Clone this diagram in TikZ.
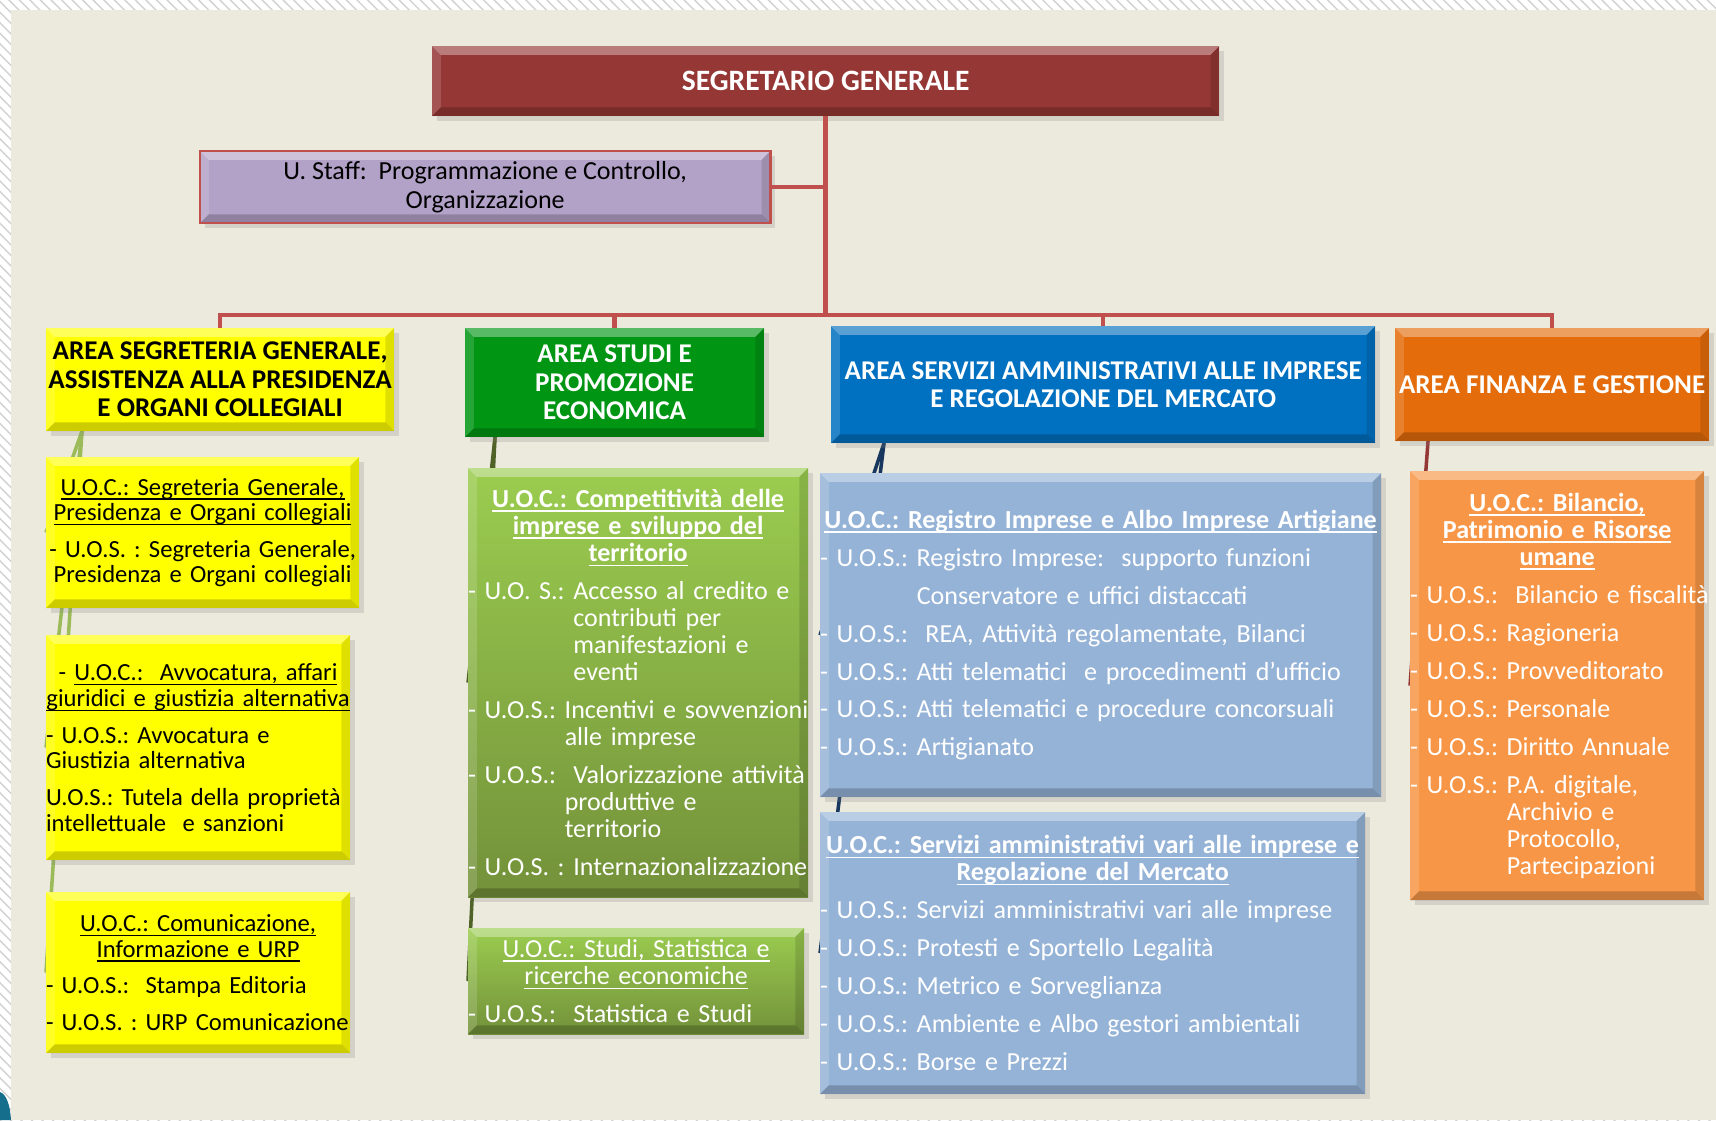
\documentclass[tikz,border=0pt]{standalone}
\usepackage{fontspec}
\setmainfont{Carlito}
\usetikzlibrary{positioning,shadows,backgrounds,patterns}

\definecolor{bgbeige}{RGB}{236,233,221}
\definecolor{sgred}{RGB}{149,55,53}
\definecolor{linkred}{RGB}{192,80,77}
\definecolor{staffviolet}{RGB}{179,162,199}
\definecolor{areayellow}{RGB}{255,255,0}
\definecolor{areagreen}{RGB}{0,150,20}
\definecolor{areablue}{RGB}{0,112,192}
\definecolor{areaorange}{RGB}{228,108,10}
\definecolor{greentop}{RGB}{155,205,80}
\definecolor{greenbot}{RGB}{115,145,58}
\definecolor{unitblue}{RGB}{149,179,215}
\definecolor{unitorange}{RGB}{247,150,70}
\definecolor{linkolive}{RGB}{155,187,89}
\definecolor{linkgreen}{RGB}{79,98,40}
\definecolor{linknavy}{RGB}{23,55,94}
\definecolor{linkbrown}{RGB}{149,55,53}
\definecolor{cornerteal}{RGB}{20,110,140}

% underline that sits just under the baseline
\newcommand{\undertext}[1]{{\setbox0=\hbox{#1}\rlap{\rule[-1.3pt]{\wd0}{0.45pt}}\box0}}
% one line of a unit box: centred, underlined heading, plain, hanging
\newcommand{\uocline}[1]{\makebox[\linewidth]{\undertext{#1}}\par}
\newcommand{\cenline}[1]{\makebox[\linewidth]{#1}\par}
\newcommand{\uosline}[1]{\makebox[\linewidth][l]{#1}\par}
\newcommand{\contline}[2]{\makebox[\linewidth][l]{\hphantom{#1}#2}\par}
\newcommand{\uosgap}{\vspace{3.1pt}}

\tikzset{
  bevel/.style={path picture={
    \fill[white, opacity=0.35] (path picture bounding box.north west) -- (path picture bounding box.north east)
      -- ([xshift=-2.5pt,yshift=-2.5pt]path picture bounding box.north east)
      -- ([xshift=2.5pt,yshift=-2.5pt]path picture bounding box.north west) -- cycle;
    \fill[white, opacity=0.15] (path picture bounding box.north west) -- (path picture bounding box.south west)
      -- ([xshift=2.5pt,yshift=2.5pt]path picture bounding box.south west)
      -- ([xshift=2.5pt,yshift=-2.5pt]path picture bounding box.north west) -- cycle;
    \fill[black, opacity=0.12] (path picture bounding box.north east) -- (path picture bounding box.south east)
      -- ([xshift=-2.5pt,yshift=2.5pt]path picture bounding box.south east)
      -- ([xshift=-2.5pt,yshift=-2.5pt]path picture bounding box.north east) -- cycle;
    \fill[black, opacity=0.2] (path picture bounding box.south west) -- (path picture bounding box.south east)
      -- ([xshift=-2.5pt,yshift=2.5pt]path picture bounding box.south east)
      -- ([xshift=2.5pt,yshift=2.5pt]path picture bounding box.south west) -- cycle;
  }}
}

\begin{document}
\frenchspacing
\begin{tikzpicture}[x=0.01cm, y=-0.01cm,
    box/.style={anchor=north west, inner xsep=0pt, inner ysep=1pt, outer sep=0pt,
      drop shadow={opacity=0.22, shadow xshift=1.4pt, shadow yshift=-1.4pt}, bevel},
    boxdim/.style 2 args={minimum width=#1cm, text width=#1cm, minimum height=#2cm},
    areadim/.style 2 args={minimum width=#1cm, minimum height=#2cm},
    area/.style={box, align=center, font=\fontsize{7.7}{8.1}\selectfont\bfseries},
    unit/.style={box, font=\fontsize{7.4}{7.7}\selectfont},
    yellowunit/.style={unit, fill=areayellow, font=\fontsize{7.0}{7.3}\selectfont},
    link/.style={draw=linkred, line width=1.3pt},
    sublink/.style={line width=1pt}]
  \useasboundingbox (0,0) rectangle (1716,1120);

  % 1. Segretario and staff unit
  \node[area, areadim={7.87}{0.70}, fill=sgred, text=white,
    font=\fontsize{8.4}{9}\selectfont\bfseries] (sg) at (432,46) {SEGRETARIO GENERALE};
  \node[box, areadim={5.70}{0.72}, fill=staffviolet, draw=linkred, line width=0.7pt,
    align=center, font=\fontsize{7.4}{8.1}\selectfont] (staff) at (200,151)
    {U. Staff:\ \ Programmazione e Controllo,\\ Organizzazione};

  % 2. The four areas
  \node[area, areadim={3.48}{1.03}, fill=areayellow] (segr) at (46,328)
    {AREA SEGRETERIA GENERALE,\\ ASSISTENZA ALLA PRESIDENZA\\ E ORGANI COLLEGIALI};
  \node[area, areadim={2.99}{1.09}, fill=areagreen, text=white] (studi) at (465,328)
    {AREA STUDI E\\ PROMOZIONE\\ ECONOMICA};
  \node[area, areadim={5.44}{1.17}, fill=areablue, text=white] (serv) at (831,326)
    {AREA SERVIZI AMMINISTRATIVI ALLE IMPRESE\\ E REGOLAZIONE DEL MERCATO};
  \node[area, areadim={3.14}{1.13}, fill=areaorange, text=white] (fin) at (1395,328)
    {AREA FINANZA E GESTIONE};

  % 3. Units of the first area
  \node[yellowunit, boxdim={3.13}{1.51}] (segr1) at (46,457) {%
    \uocline{U.O.C.: Segreteria Generale,}
    \uocline{Presidenza e Organi collegiali}\uosgap
    \cenline{- U.O.S. : Segreteria Generale,}
    \cenline{Presidenza e Organi collegiali}};
  \node[yellowunit, boxdim={3.04}{2.25}] (segr2) at (46,635) {%
    \cenline{- \undertext{U.O.C.:\ \ Avvocatura, affari}}
    \uocline{giuridici e giustizia alternativa}\uosgap
    \uosline{- U.O.S.: Avvocatura e}
    \uosline{Giustizia alternativa}\uosgap
    \makebox[\linewidth][s]{U.O.S.: Tutela della proprietà}\par
    \uosline{intellettuale\ \ e sanzioni}\vspace{7pt}};
  \node[yellowunit, boxdim={3.04}{1.61}] (segr3) at (46,892) {%
    \uocline{U.O.C.: Comunicazione,}
    \uocline{Informazione e URP}\uosgap
    \uosline{- U.O.S.:\ \ Stampa Editoria}\uosgap
    \uosline{- U.O.S. : URP Comunicazione}};

  % 4. Units of the second area
  \node[unit, boxdim={3.40}{4.29}, top color=greentop, bottom color=greenbot, text=white] (studi1) at (468,468) {%
    {\bfseries
    \uocline{U.O.C.: Competitività delle}
    \uocline{imprese e sviluppo del}
    \uocline{territorio}}\uosgap
    \uosline{- U.O. S.: Accesso al credito e}
    \contline{- U.O. S.: }{contributi per}
    \contline{- U.O. S.: }{manifestazioni e}
    \contline{- U.O. S.: }{eventi}\uosgap
    \uosline{- U.O.S.: Incentivi e sovvenzioni}
    \contline{- U.O.S.: }{alle imprese}\uosgap
    \uosline{- U.O.S.:\ \ Valorizzazione attività}
    \contline{- U.O.S.: }{produttive e}
    \contline{- U.O.S.: }{territorio}\uosgap
    \uosline{- U.O.S. : Internazionalizzazione}};
  \node[unit, boxdim={3.36}{1.06}, top color=greentop, bottom color=greenbot, text=white] (studi2) at (468,928) {%
    \uocline{U.O.C.: Studi, Statistica e}
    \uocline{ricerche economiche}\uosgap
    \uosline{- U.O.S.:\ \ Statistica e Studi}};

  % 5. Units of the third area
  \node[unit, boxdim={5.61}{3.24}, fill=unitblue, text=white] (serv1) at (820,473) {%
    {\bfseries\uocline{U.O.C.: Registro Imprese e Albo Imprese Artigiane}}\uosgap
    \uosline{- U.O.S.: Registro Imprese:\ \ supporto funzioni}\uosgap
    \contline{- U.O.S.: }{Conservatore e uffici distaccati}\uosgap
    \uosline{- U.O.S.:\ \ REA, Attività regolamentate, Bilanci}\uosgap
    \uosline{- U.O.S.: Atti telematici\ \ e procedimenti d’ufficio}\uosgap
    \uosline{- U.O.S.: Atti telematici e procedure concorsuali}\uosgap
    \uosline{- U.O.S.: Artigianato}};
  \node[unit, boxdim={5.45}{2.82}, fill=unitblue, text=white] (serv2) at (820,812) {%
    {\bfseries
    \uocline{U.O.C.: Servizi amministrativi vari alle imprese e}
    \uocline{Regolazione del Mercato}}\uosgap
    \uosline{- U.O.S.: Servizi amministrativi vari alle imprese}\uosgap
    \uosline{- U.O.S.: Protesti e Sportello Legalità}\uosgap
    \uosline{- U.O.S.: Metrico e Sorveglianza}\uosgap
    \uosline{- U.O.S.: Ambiente e Albo gestori ambientali}\uosgap
    \uosline{- U.O.S.: Borse e Prezzi}};

  % 6. Unit of the fourth area
  \node[unit, boxdim={2.94}{4.29}, fill=unitorange, text=white] (fin1) at (1410,471) {%
    {\bfseries
    \uocline{U.O.C.: Bilancio,}
    \uocline{Patrimonio e Risorse}
    \uocline{umane}}\uosgap
    \uosline{- U.O.S.:\ \ Bilancio e fiscalità}\uosgap
    \uosline{- U.O.S.: Ragioneria}\uosgap
    \uosline{- U.O.S.: Provveditorato}\uosgap
    \uosline{- U.O.S.: Personale}\uosgap
    \uosline{- U.O.S.: Diritto Annuale}\uosgap
    \uosline{- U.O.S.: P.A. digitale,}
    \contline{- U.O.S.: }{Archivio e}
    \contline{- U.O.S.: }{Protocollo,}
    \contline{- U.O.S.: }{Partecipazioni}};

  % 7. Red connectors from the top
  \path (sg.south) ++(0,199) coordinate (bus);
  \draw[link] (sg.south) -- (bus);
  \draw[link] (staff.east) -- (staff.east -| sg.south);
  \draw[link] (bus) -| (segr.north);
  \draw[link] (bus) -| (studi.north);
  \draw[link] (bus) -| (serv.north);
  \draw[link] (bus) -| (fin.north);

  % 8. Paper, border and the thin links behind the boxes
  \begin{scope}[on background layer]
    \fill[white] (0,0) rectangle (1716,1120);
    \fill[pattern=north west lines, pattern color=gray!35] (0,0) rectangle (1716,1120);
    \fill[bgbeige] (11,10) rectangle (1716,1120);
    \fill[cornerteal] (0,1120) -- (0,1092) .. controls (6,1094) and (10,1104) .. (11,1120) -- cycle;

    \draw[sublink, draw=linkolive] ([xshift=0.36cm]segr.south west) -- (segr1.west);
    \draw[sublink, draw=linkolive] ([xshift=0.36cm]segr.south west) -- (segr2.west);
    \draw[sublink, draw=linkolive] ([xshift=0.36cm]segr.south west) -- (segr3.west);
    \draw[sublink, draw=linkgreen] ([xshift=0.30cm]studi.south west) -- (studi1.west);
    \draw[sublink, draw=linkgreen] ([xshift=0.30cm]studi.south west) -- (studi2.west);
    \draw[sublink, draw=linknavy] ([xshift=0.53cm]serv.south west) -- (serv1.west);
    \draw[sublink, draw=linknavy] ([xshift=0.53cm]serv.south west) -- (serv2.west);
    \draw[sublink, draw=linkbrown] ([xshift=0.33cm]fin.south west) -- (fin1.west);
  \end{scope}
\end{tikzpicture}
\end{document}
